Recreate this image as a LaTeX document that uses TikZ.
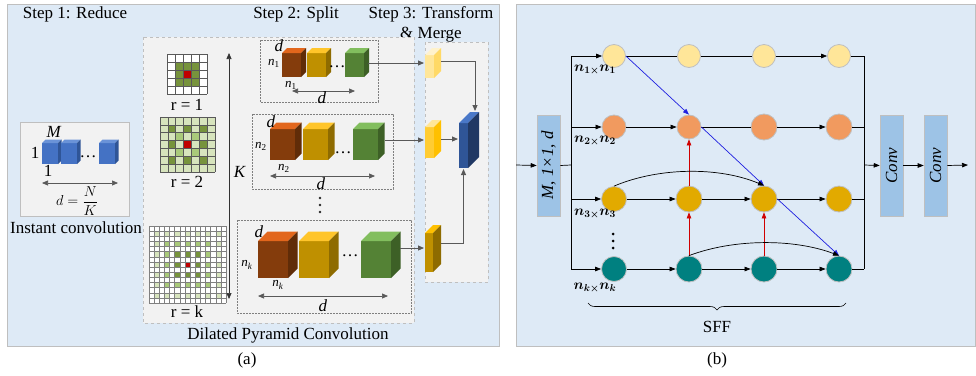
\documentclass[tikz,border=0pt]{standalone}
\usepackage{fontspec}
\setmainfont{Liberation Serif}
\usepackage{amsmath,bm,graphicx}
\usetikzlibrary{arrows.meta,decorations.pathreplacing}
\definecolor{panelblue}{HTML}{DEEAF6}
\definecolor{boxgray}{HTML}{F2F2F2}
\definecolor{boxline}{HTML}{BFBFBF}
\definecolor{dashline}{HTML}{7F7F7F}
\definecolor{agray}{HTML}{595959}
\definecolor{gdark}{HTML}{77933C}
\definecolor{gmid}{HTML}{A9C97A}
\definecolor{glight}{HTML}{D7E4BD}
\definecolor{gred}{HTML}{C00000}
\definecolor{brF}{HTML}{843C0C}\definecolor{brT}{HTML}{E2661C}\definecolor{brS}{HTML}{602C08}
\definecolor{yeF}{HTML}{BF9000}\definecolor{yeT}{HTML}{FFC52A}\definecolor{yeS}{HTML}{8E6B00}
\definecolor{grF}{HTML}{548235}\definecolor{grT}{HTML}{82BE5E}\definecolor{grS}{HTML}{3D6026}
\definecolor{blF}{HTML}{4472C4}\definecolor{blT}{HTML}{6A93D8}\definecolor{blS}{HTML}{2F5597}
\definecolor{lyF}{HTML}{FFE699}\definecolor{lyT}{HTML}{FFF2CC}\definecolor{lyS}{HTML}{FFD966}
\definecolor{myF}{HTML}{FFCC33}\definecolor{myT}{HTML}{FFE699}\definecolor{myS}{HTML}{FFC000}
\definecolor{dyF}{HTML}{BF9000}\definecolor{dyT}{HTML}{FFC000}\definecolor{dyS}{HTML}{8E6B00}
\definecolor{bbF}{HTML}{2F5597}\definecolor{bbT}{HTML}{4A78C8}\definecolor{bbS}{HTML}{203864}
\definecolor{cOne}{HTML}{FFE699}
\definecolor{cTwo}{HTML}{F19A5F}
\definecolor{cThree}{HTML}{E2AA00}
\definecolor{cFour}{HTML}{008080}
\definecolor{convblue}{HTML}{9DC3E6}
\definecolor{bluearr}{HTML}{1F1FE0}
\definecolor{redarr}{HTML}{D00000}

\newcommand{\mycube}[8]{%
 \fill[#6] (#1,#2) rectangle ++(#3,#4);
 \fill[#7] (#1,#2) -- ++(#5,-#5) -- ++(#3,0) -- ++(-#5,#5) -- cycle;
 \fill[#8] ({#1+#3},#2) -- ++(#5,-#5) -- ++(0,#4) -- ++(-#5,#5) -- cycle;
}

\begin{document}
\begin{tikzpicture}[x=1pt,y=-1pt,
  font=\fontsize{17}{20}\selectfont,
  every node/.style={inner sep=0pt},
  sm/.style={font=\fontsize{13}{15}\selectfont},
  gridl/.style={draw=black!65, line width=0.45pt},
  garrow/.style={draw=agray, line width=0.9pt, -{Triangle[length=6pt,width=5pt]}},
  gdarrow/.style={draw=agray, line width=0.9pt, {Triangle[length=6pt,width=5pt]}-{Triangle[length=6pt,width=5pt]}},
  barrow/.style={draw=black, line width=0.7pt, -{Triangle[length=6pt,width=4.5pt]}},
  bline/.style={draw=black, line width=0.7pt},
  bluea/.style={draw=bluearr, line width=0.7pt, -{Triangle[length=6pt,width=4.5pt]}},
  reda/.style={draw=redarr, line width=0.7pt, -{Triangle[length=6pt,width=4.5pt]}},
  circ/.style={circle, draw=boxline, line width=0.8pt},
  convbox/.style={fill=convblue, draw=boxline, line width=0.6pt, minimum width=23pt, minimum height=101pt},
  splitbox/.style={draw=dashline, dashed, dash pattern=on 2pt off 1pt, line width=0.7pt, fill=boxgray}
]
\useasboundingbox (0,0) rectangle (976,375);

% ================= panel (a) =================
\path[fill=panelblue, draw=boxline, line width=0.8pt] (7,4) rectangle (499,346);
\node (s1) at (75,14) {Step 1: Reduce};
\node (s2) at (296,14) {Step 2: Split};
\node (s3) at (431,14) {Step 3: Transform};
\node (s3b) at (431,35) {\& Merge};

% instant convolution
\path[fill=boxgray, draw=boxline, line width=0.7pt] (20,122) rectangle (129,216);
\mycube{42}{143}{16}{21}{3.5}{blF}{blT}{blS}
\mycube{61}{143}{16}{21}{3.5}{blF}{blT}{blS}
\mycube{99}{143}{16}{21}{3.5}{blF}{blT}{blS}
\node (iM) at (54,132) {\textit{M}};
\node (i1a) at (35,153) {1};
\node (i1b) at (48,171) {1};
\node (idots) at (88,157) {\dots};
\coordinate (iaL) at (42,183);
\coordinate (iaR) at (118,183);
\draw[gdarrow, line width=0.7pt] (iaL) -- (iaR);
\node[font=\fontsize{15}{17}\selectfont] (ieq) at (77,201) {$d=\dfrac{N}{K}$};
\node (ilab) at (76,228) {Instant convolution};

% dilated pyramid convolution box
\path[fill=boxgray, draw=boxline, dashed, line width=0.7pt] (143,37) rectangle (414,323);
\node (dlab) at (288,335) {Dilated Pyramid Convolution};

% grid r=1
\fill[white] (167,54) rectangle (207,94);
\fill[gdark] (175,62) rectangle (199,86);
\fill[gred] (183,70) rectangle (191,78);
\foreach \k in {0,...,5}{
  \draw[gridl] ({167+8*\k},54) -- ({167+8*\k},94);
  \draw[gridl] (167,{54+8*\k}) -- (207,{54+8*\k});
}
\node (r1) at (187,105) {r = 1};

% grid r=2
\fill[glight] (160,117) rectangle (215,172);
\foreach \i/\j in {1/1,1/3,1/5,3/1,3/5,5/1,5/3,5/5}
  \fill[gdark] ({160+7.857*\i},{117+7.857*\j}) rectangle ++(7.857,7.857);
\foreach \i/\j in {2/2,2/4,4/2,4/4}
  \fill[gmid] ({160+7.857*\i},{117+7.857*\j}) rectangle ++(7.857,7.857);
\fill[gred] ({160+7.857*3},{117+7.857*3}) rectangle ++(7.857,7.857);
\foreach \k in {0,...,7}{
  \draw[gridl] ({160+7.857*\k},117) -- ({160+7.857*\k},172);
  \draw[gridl] (160,{117+7.857*\k}) -- (215,{117+7.857*\k});
}
\node (r2) at (187,182) {r = 2};

% grid r=k
\fill[white] (149,226) rectangle (226,303);
\foreach \i in {0,...,14}{\foreach \j in {0,...,14}{
  \pgfmathtruncatemacro\dx{abs(\i-7)}
  \pgfmathtruncatemacro\dy{abs(\j-7)}
  \pgfmathtruncatemacro\mm{max(\dx,\dy)}
  \pgfmathtruncatemacro\ev{and(mod(\dx,2)==0,mod(\dy,2)==0)}
  \ifnum\ev=1
    \ifcase\mm
      \fill[gred] ({149+5.133*\i},{226+5.133*\j}) rectangle ++(5.133,5.133);
    \or \or
      \fill[gdark] ({149+5.133*\i},{226+5.133*\j}) rectangle ++(5.133,5.133);
    \or \or
      \fill[gmid] ({149+5.133*\i},{226+5.133*\j}) rectangle ++(5.133,5.133);
    \or \or
      \fill[glight] ({149+5.133*\i},{226+5.133*\j}) rectangle ++(5.133,5.133);
    \fi
  \fi
}}
\foreach \k in {0,...,15}{
  \draw[gridl, draw=black!50, line width=0.4pt] ({149+5.133*\k},226) -- ({149+5.133*\k},303);
  \draw[gridl, draw=black!50, line width=0.4pt] (149,{226+5.133*\k}) -- (226,{226+5.133*\k});
}
\node (rk) at (187,312) {r = k};

% K arrow
\coordinate (kT) at (229,53);
\coordinate (kB) at (229,299);
\draw[gdarrow, draw=black!80, line width=0.7pt] (kT) -- (kB);
\node (K) at (240,172) {\textit{K}};

% split box 1
\path[splitbox] (260,40) rectangle (378,102);
\mycube{282}{53}{19}{24}{5}{brF}{brT}{brS}
\mycube{307}{53}{19}{24}{5}{yeF}{yeT}{yeS}
\mycube{345}{53}{19}{24}{5}{grF}{grT}{grS}
\node (b1dots) at (337,67) {\dots};
\node (b1d) at (279,46) {\textit{d}};
\node[sm] (b1n) at (274,63) {\textit{n}\textsubscript{1}};
\node[sm] (b1n2) at (291,85) {\textit{n}\textsubscript{1}};
\coordinate (b1aL) at (292,91);
\coordinate (b1aR) at (355,91);
\draw[gdarrow, line width=0.7pt] (b1aL) -- (b1aR);
\node (b1d2) at (322,98) {\textit{d}};

% split box 2
\path[splitbox] (252,114) rectangle (393,189);
\mycube{270}{129}{25}{31}{6.5}{brF}{brT}{brS}
\mycube{303}{129}{25}{31}{6.5}{yeF}{yeT}{yeS}
\mycube{353}{129}{25}{31}{6.5}{grF}{grT}{grS}
\node (b2dots) at (343,153) {\dots};
\node (b2d) at (271,122) {\textit{d}};
\node[sm] (b2n) at (261,146) {\textit{n}\textsubscript{2}};
\node[sm] (b2n2) at (284,168) {\textit{n}\textsubscript{2}};
\coordinate (b2aL) at (270,176);
\coordinate (b2aR) at (375,176);
\draw[gdarrow, line width=0.7pt] (b2aL) -- (b2aR);
\node (b2d2) at (321,184) {\textit{d}};

% vertical dots between box 2 and box 3
\foreach \yy in {198,205,212} \fill[black!85] (320,\yy) circle (1.4);

% split box 3
\path[splitbox] (237,220) rectangle (411,313);
\mycube{258}{241}{30}{37}{9.5}{brF}{brT}{brS}
\mycube{299}{241}{30}{37}{9.5}{yeF}{yeT}{yeS}
\mycube{361}{241}{30}{37}{9.5}{grF}{grT}{grS}
\node (b3dots) at (350,256) {\dots};
\node (b3d) at (259,232) {\textit{d}};
\node[sm] (b3n) at (247,265) {\textit{n}\textsubscript{\textit{k}}};
\node[sm] (b3n2) at (278,285) {\textit{n}\textsubscript{\textit{k}}};
\coordinate (b3aL) at (258,296);
\coordinate (b3aR) at (388,296);
\draw[gdarrow, line width=0.7pt] (b3aL) -- (b3aR);
\node (b3d2) at (323,306) {\textit{d}};

% step 3 box
\path[fill=boxgray, draw=boxline, dashed, line width=0.7pt] (425,42) rectangle (488,282);
\mycube{425}{55}{9}{23}{7}{lyF}{lyT}{lyS}
\mycube{425}{127}{9}{31}{7}{myF}{myT}{myS}
\mycube{425}{233}{8}{39}{8}{dyF}{dyT}{dyS}
\mycube{459}{123}{9}{45}{11}{bbF}{bbT}{bbS}

\coordinate (g1out) at (368,63);
\coordinate (ly1in) at (424,63);
\coordinate (g2out) at (385,140);
\coordinate (my2in) at (424,140);
\coordinate (g3out) at (400,248);
\coordinate (dy3in) at (424,248);
\coordinate (ly1out) at (441,61);
\coordinate (my2out) at (441,139);
\coordinate (dy3out) at (441,243);
\coordinate (bbTop) at (475,111);
\coordinate (bbLeft) at (458,139);
\coordinate (bbBot) at (463.5,169);
\draw[garrow] (g1out) -- (ly1in);
\draw[garrow] (g2out) -- (my2in);
\draw[garrow] (g3out) -- (dy3in);
\draw[garrow] (ly1out) -| (bbTop);
\draw[garrow] (my2out) -- (bbLeft);
\draw[garrow] (dy3out) -| (bbBot);

\node (capa) at (247,360) {(a)};

% ================= panel (b) =================
\path[fill=panelblue, draw=boxline, line width=0.8pt] (516,4) rectangle (975,346);

\node[convbox] (inrect) at (548.5,165.5) {\rotatebox{90}{\textit{M}, \textit{1×1}, \textit{d}}};
\node[convbox] (conv1) at (891.5,165.5) {\rotatebox{90}{\textit{Conv}}};
\node[convbox] (conv2) at (935.5,165.5) {\rotatebox{90}{\textit{Conv}}};

\coordinate (inS) at (516,165);
\coordinate (bLm) at (571,165);
\coordinate (bL1) at (571,56);
\coordinate (bL2) at (571,127);
\coordinate (bL3) at (571,199);
\coordinate (bL4) at (571,269);
\coordinate (bRm) at (864,165);
\coordinate (bR1) at (864,56);
\coordinate (bR2) at (864,127);
\coordinate (bR3) at (864,199);
\coordinate (bR4) at (864,269);
\coordinate (outE) at (968,165);

\node[circ, fill=cOne, minimum size=23pt] (r1c1) at (614,56) {};
\node[circ, fill=cOne, minimum size=23pt] (r1c2) at (689,56) {};
\node[circ, fill=cOne, minimum size=23pt] (r1c3) at (764,56) {};
\node[circ, fill=cOne, minimum size=23pt] (r1c4) at (839,56) {};
\node[circ, fill=cTwo, minimum size=24pt] (r2c1) at (614,127) {};
\node[circ, fill=cTwo, minimum size=24pt] (r2c2) at (689,127) {};
\node[circ, fill=cTwo, minimum size=26pt] (r2c3) at (764,127) {};
\node[circ, fill=cTwo, minimum size=26pt] (r2c4) at (839,127) {};
\node[circ, fill=cThree, minimum size=25pt] (r3c1) at (614,199) {};
\node[circ, fill=cThree, minimum size=26pt] (r3c2) at (689,199) {};
\node[circ, fill=cThree, minimum size=26pt] (r3c3) at (764,199) {};
\node[circ, fill=cThree, minimum size=26pt] (r3c4) at (839,199) {};
\node[circ, fill=cFour, minimum size=25pt] (r4c1) at (614,269) {};
\node[circ, fill=cFour, minimum size=26pt] (r4c2) at (689,269) {};
\node[circ, fill=cFour, minimum size=26pt] (r4c3) at (764,269) {};
\node[circ, fill=cFour, minimum size=26pt] (r4c4) at (839,269) {};

% buses
\draw[barrow] (inS) -- (inrect.west);
\draw[bline] (inrect.east) -- (bLm);
\draw[bline] (bL1) -- (bL4);
\draw[bline] (bR1) -- (bR4);
\draw[barrow] (bRm) -- (conv1.west);
\draw[barrow] (conv1.east) -- (conv2.west);
\draw[barrow] (conv2.east) -- (outE);

% row 1
\draw[barrow] (bL1) -- (r1c1.west);
\draw[bline] (r1c1.east) -- (r1c2.west);
\draw[bline] (r1c2.east) -- (r1c3.west);
\draw[barrow] (r1c3.east) -- (r1c4.west);
\draw[bline] (r1c4.east) -- (bR1);
% row 2
\draw[barrow] (bL2) -- (r2c1.west);
\draw[barrow] (r2c1.east) -- (r2c2.west);
\draw[bline] (r2c2.east) -- (r2c3.west);
\draw[barrow] (r2c3.east) -- (r2c4.west);
\draw[bline] (r2c4.east) -- (bR2);
% row 3
\draw[barrow] (bL3) -- (r3c1.west);
\draw[barrow] (r3c1.east) -- (r3c2.west);
\draw[barrow] (r3c2.east) -- (r3c3.west);
\draw[barrow] (r3c3.east) -- (r3c4.west);
\draw[bline] (r3c4.east) -- (bR3);
% row 4
\draw[barrow] (bL4) -- (r4c1.west);
\draw[barrow] (r4c1.east) -- (r4c2.west);
\draw[barrow] (r4c2.east) -- (r4c3.west);
\draw[barrow] (r4c3.east) -- (r4c4.west);
\draw[bline] (r4c4.east) -- (bR4);

% blue diagonals
\draw[bluea] (r1c1.east) -- (r2c2.north);
\draw[bluea] (r2c2.east) -- (r3c3.north);
\draw[bluea] (r3c3.east) -- (r4c4.north);
% red verticals
\draw[reda] (r3c2.north) -- (r2c2.south);
\draw[reda] (r4c2.north) -- (r3c2.south);
\draw[reda] (r4c3.north) -- (r3c3.south);
% curved skips
\draw[barrow] (r3c1.north) .. controls +(45,-19) and +(-45,-19) .. (r3c3.north);
\draw[barrow] (r4c2.north) .. controls +(45,-17) and +(-45,-17) .. (r4c4.north);

% labels
\node[font=\fontsize{14}{16}\selectfont] (l1) at (595,70) {$\bm{n_{1\times}n_1}$};
\node[font=\fontsize{14}{16}\selectfont] (l2) at (595,141) {$\bm{n_{2\times}n_2}$};
\node[font=\fontsize{14}{16}\selectfont] (l3) at (595,214) {$\bm{n_{3\times}n_3}$};
\node[font=\fontsize{14}{16}\selectfont] (l4) at (595,288) {$\bm{n_{k\times}n_k}$};
\foreach \yy in {234,241,248} \fill[black] (613,\yy) circle (1.5);

% brace
\coordinate (sffL) at (588,303);
\coordinate (sffR) at (846,303);
\draw[line width=0.6pt, decorate, decoration={brace, amplitude=7pt, mirror}] (sffL) -- (sffR);
\node (sff) at (717,327) {SFF};

\node (capb) at (717,360) {(b)};
\end{tikzpicture}
\end{document}
